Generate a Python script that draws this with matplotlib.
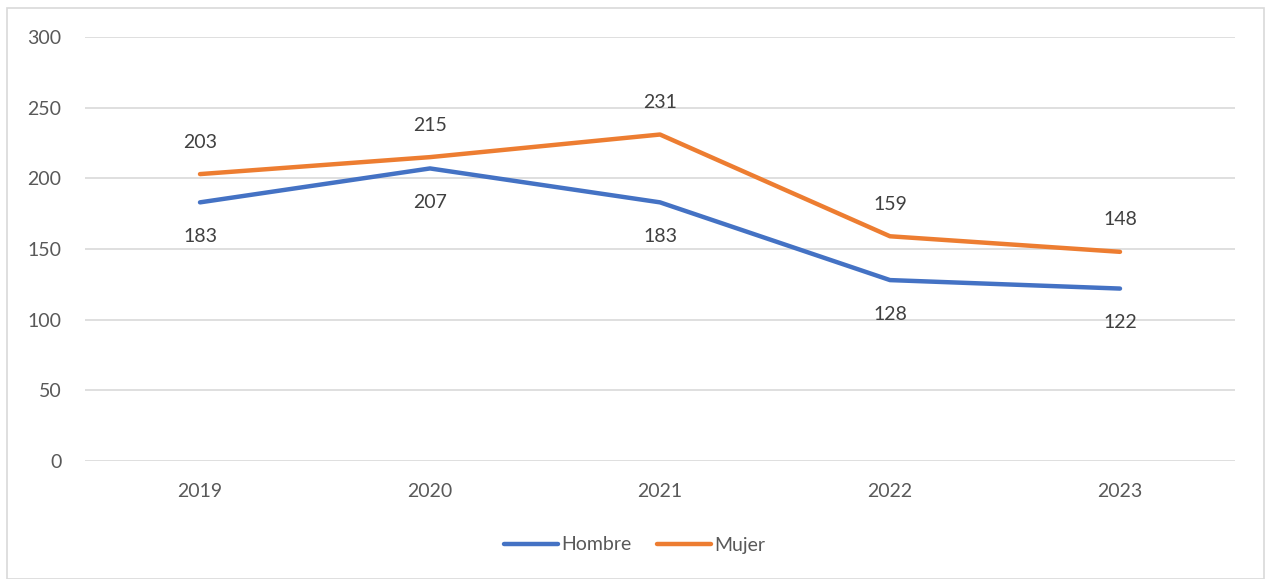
import matplotlib
matplotlib.use("Agg")
import matplotlib.pyplot as plt
from matplotlib.patches import Rectangle
from matplotlib.lines import Line2D

years = ["2019", "2020", "2021", "2022", "2023"]
hombre = [183, 207, 183, 128, 122]
mujer = [203, 215, 231, 159, 148]
yticks = [0, 50, 100, 150, 200, 250, 300]

plt.rcParams['font.family'] = ['Lato', 'DejaVu Sans']

W, H = 1269, 579
fig = plt.figure(figsize=(W / 100, H / 100), dpi=100)
ax = fig.add_axes([85 / W, 1 - 461 / H, (1235 - 85) / W, (461 - 37) / H])

blue = "#4472C4"
orange = "#ED7D31"
x = list(range(len(years)))
ax.plot(x, hombre, color=blue, lw=3.2, solid_capstyle="round", solid_joinstyle="round", zorder=3)
ax.plot(x, mujer, color=orange, lw=3.2, solid_capstyle="round", solid_joinstyle="round", zorder=3)

fs = 14
for xi, v in zip(x, hombre):
    ax.annotate(str(v), (xi, v), xytext=(0, -34), textcoords="offset pixels",
                ha="center", va="center", fontsize=fs, color="#404040")
for xi, v in zip(x, mujer):
    ax.annotate(str(v), (xi, v), xytext=(0, 32), textcoords="offset pixels",
                ha="center", va="center", fontsize=fs, color="#404040")

ax.set_xlim(-0.5, len(years) - 0.5)
ax.set_ylim(0, 300)
ax.set_yticks(yticks)
ax.set_xticks(x)
ax.set_xticklabels(years)
ax.grid(axis="y", color="#D9D9D9", lw=1.2)
ax.set_axisbelow(True)
for s in ax.spines.values():
    s.set_visible(False)
ax.tick_params(axis="both", length=0, labelsize=fs, labelcolor="#595959")
ax.tick_params(axis="y", pad=17)
ax.tick_params(axis="x", pad=16)

# legend
handles = [Line2D([], [], color=blue, lw=3.2, solid_capstyle="round"),
           Line2D([], [], color=orange, lw=3.2, solid_capstyle="round")]
leg = fig.legend(handles, ["Hombre", "Mujer"], loc="center", bbox_to_anchor=(0.5, 1 - 545 / H),
                 ncol=2, frameon=False, fontsize=fs, handlelength=2.8, handletextpad=0.15,
                 columnspacing=1.3, labelcolor="#595959")

# chart border
fig.patches.append(Rectangle((7 / W, 0), (1264 - 7) / W, 1 - 8 / H, transform=fig.transFigure,
                             fill=False, edgecolor="#D9D9D9", lw=1.2))

fig.savefig("out.png", dpi=100, facecolor="white")
